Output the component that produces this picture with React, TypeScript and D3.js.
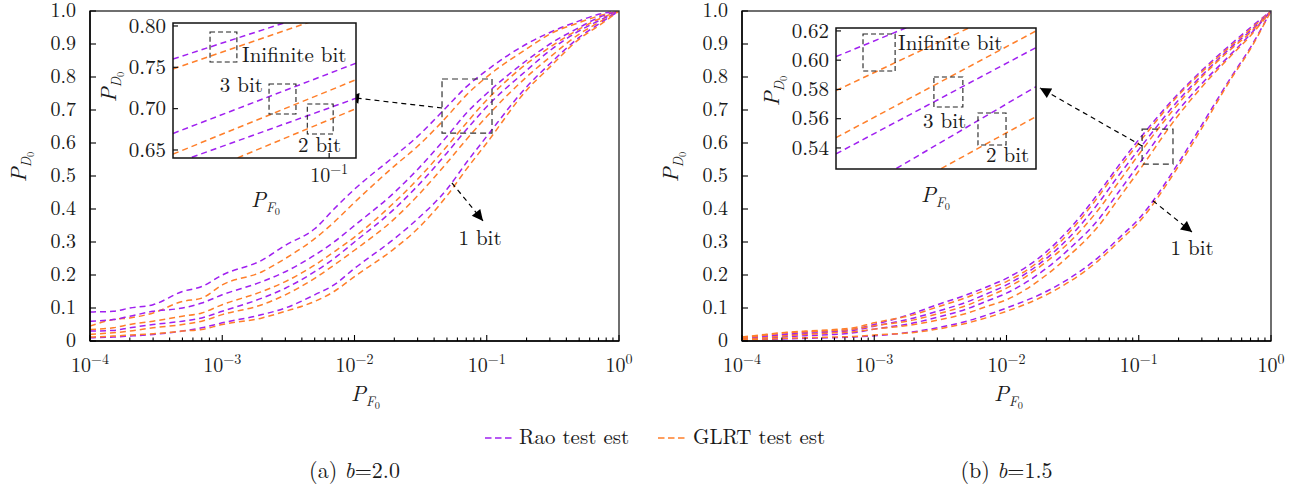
import React from 'react';
import * as d3 from 'd3';

// false alarm probabilities shared by every curve
const pf = [1e-4, 1.5e-4, 2e-4, 3e-4, 5e-4, 7e-4, 1e-3, 2e-3, 3e-3, 5e-3, 7e-3, 1e-2, 2e-2, 3e-2, 5e-2, 7e-2, 0.1, 0.2, 0.3, 0.5, 0.7, 1];

// (a) b = 2.0
const raoInfA = [0.088, 0.09, 0.1, 0.11, 0.15, 0.165, 0.2, 0.245, 0.29, 0.34, 0.4, 0.46, 0.56, 0.62, 0.71, 0.77, 0.82, 0.9, 0.935, 0.97, 0.99, 1.0];
const glrtInfA = [0.045, 0.065, 0.07, 0.085, 0.12, 0.13, 0.17, 0.21, 0.25, 0.31, 0.36, 0.42, 0.53, 0.59, 0.68, 0.745, 0.8, 0.885, 0.93, 0.965, 0.985, 1.0];
const rao3A = [0.06, 0.065, 0.075, 0.09, 0.1, 0.115, 0.14, 0.18, 0.21, 0.26, 0.3, 0.35, 0.45, 0.52, 0.62, 0.69, 0.75, 0.85, 0.9, 0.95, 0.98, 1.0];
const glrt3A = [0.035, 0.04, 0.05, 0.06, 0.075, 0.085, 0.11, 0.15, 0.18, 0.23, 0.27, 0.315, 0.42, 0.49, 0.59, 0.66, 0.73, 0.84, 0.89, 0.945, 0.975, 1.0];
const rao2A = [0.03, 0.032, 0.04, 0.05, 0.06, 0.07, 0.09, 0.13, 0.16, 0.21, 0.25, 0.3, 0.4, 0.47, 0.57, 0.64, 0.71, 0.82, 0.88, 0.94, 0.97, 1.0];
const glrt2A = [0.02, 0.025, 0.03, 0.04, 0.05, 0.06, 0.08, 0.11, 0.14, 0.19, 0.23, 0.275, 0.37, 0.44, 0.54, 0.61, 0.68, 0.8, 0.86, 0.93, 0.965, 1.0];
const rao1A = [0.01, 0.012, 0.015, 0.02, 0.03, 0.04, 0.055, 0.08, 0.1, 0.14, 0.17, 0.22, 0.31, 0.37, 0.46, 0.54, 0.62, 0.77, 0.84, 0.92, 0.96, 1.0];
const glrt1A = [0.012, 0.015, 0.018, 0.022, 0.03, 0.035, 0.05, 0.07, 0.09, 0.12, 0.15, 0.195, 0.28, 0.34, 0.44, 0.52, 0.6, 0.76, 0.83, 0.915, 0.955, 1.0];

// (b) b = 1.5
const raoInfB = [0.01, 0.015, 0.02, 0.026, 0.03, 0.036, 0.05, 0.085, 0.11, 0.14, 0.163, 0.19, 0.27, 0.34, 0.45, 0.53, 0.61, 0.75, 0.82, 0.9, 0.95, 1.0];
const glrtInfB = [0.012, 0.02, 0.025, 0.03, 0.035, 0.04, 0.055, 0.08, 0.103, 0.132, 0.155, 0.18, 0.26, 0.33, 0.44, 0.52, 0.6, 0.745, 0.815, 0.895, 0.945, 1.0];
const rao3B = [0.008, 0.012, 0.018, 0.022, 0.028, 0.032, 0.045, 0.07, 0.09, 0.118, 0.142, 0.17, 0.25, 0.315, 0.42, 0.5, 0.58, 0.73, 0.805, 0.89, 0.94, 1.0];
const glrt3B = [0.01, 0.018, 0.024, 0.028, 0.032, 0.036, 0.046, 0.064, 0.082, 0.108, 0.132, 0.16, 0.24, 0.3, 0.4, 0.48, 0.565, 0.72, 0.8, 0.885, 0.935, 1.0];
const rao2B = [0.005, 0.008, 0.012, 0.016, 0.02, 0.025, 0.036, 0.055, 0.072, 0.097, 0.12, 0.145, 0.22, 0.28, 0.37, 0.45, 0.535, 0.7, 0.78, 0.87, 0.93, 1.0];
const glrt2B = [0.006, 0.01, 0.015, 0.02, 0.025, 0.028, 0.036, 0.05, 0.063, 0.084, 0.104, 0.125, 0.2, 0.26, 0.35, 0.43, 0.515, 0.685, 0.77, 0.865, 0.925, 1.0];
const rao1B = [0.004, 0.005, 0.006, 0.008, 0.01, 0.012, 0.016, 0.028, 0.04, 0.06, 0.078, 0.1, 0.15, 0.19, 0.255, 0.31, 0.37, 0.54, 0.655, 0.8, 0.89, 1.0];
const glrt1B = [0.005, 0.006, 0.008, 0.01, 0.012, 0.014, 0.018, 0.026, 0.036, 0.054, 0.07, 0.09, 0.14, 0.18, 0.245, 0.3, 0.36, 0.53, 0.645, 0.795, 0.885, 1.0];

// zoomed insets: straight segments between the two inset edges
const insetAPf = [0.04786, 0.1135];
const insetARaoInf = [0.76, 0.832];
const insetAGlrtInf = [0.748, 0.824];
const insetARao3 = [0.67, 0.755];
const insetAGlrt3 = [0.645, 0.735];
const insetARao2 = [0.633, 0.7125];
const insetAGlrt2 = [0.608, 0.7];

const insetBPf = [0.1059, 0.1816];
const insetBRaoInf = [0.6024, 0.6587];
const insetBGlrtInf = [0.5792, 0.6437];
const insetBRao3 = [0.5359, 0.6086];
const insetBGlrt3 = [0.547, 0.62];
const insetBRao2 = [0.5018, 0.5819];
const insetBGlrt2 = [0.4865, 0.5614];

const yTickValues = [0, 0.1, 0.2, 0.3, 0.4, 0.5, 0.6, 0.7, 0.8, 0.9, 1.0];
const yTickLabels = ['0', '0.1', '0.2', '0.3', '0.4', '0.5', '0.6', '0.7', '0.8', '0.9', '1.0'];
const insetAYTicks = [0.65, 0.7, 0.75, 0.8];
const insetAYLabels = ['0.65', '0.70', '0.75', '0.80'];
const insetBYTicks = [0.54, 0.56, 0.58, 0.6, 0.62];
const insetBYLabels = ['0.54', '0.56', '0.58', '0.60', '0.62'];

const PURPLE = '#a020f0';
const ORANGE = '#ff7f2a';
const FONT = "'Latin Modern Roman'";
const INK = '#1a1a1a';
const DASH = '6,4';

const W = 529;
const H = 330;
const TOP = 11;

function PLabel({ x, y, sub, size = 22, rotate = false }) {
  return (
    <text
      x={x}
      y={y}
      transform={rotate ? `rotate(-90 ${x} ${y})` : undefined}
      textAnchor={rotate ? 'middle' : 'start'}
      fontFamily={FONT}
      fontSize={size}
      fill={INK}
    >
      <tspan fontStyle="italic">P</tspan>
      <tspan fontStyle="italic" fontSize={size * 0.62} dy={size * 0.22}>{sub}</tspan>
      <tspan fontSize={size * 0.47} dy={size * 0.14}>0</tspan>
    </text>
  );
}

function Arrow({ x1, y1, x2, y2 }) {
  return (
    <line x1={x1} y1={y1} x2={x2} y2={y2} stroke="#000" strokeWidth={1.2}
      strokeDasharray="5,4" markerEnd="url(#arrowHead)" />
  );
}

function Inset({ id, frame, xDomain, yDomain, xs, lines, yTicks, yLabels, xTick, boxes, notes, yLab, xLab }) {
  const x = d3.scaleLog().domain(xDomain).range([frame.x0, frame.x1]);
  const y = d3.scaleLinear().domain(yDomain).range([frame.y1, frame.y0]);
  const line = d3.line<number>().x((_, i) => x(xs[i])).y((d) => y(d));
  return (
    <g>
      <defs>
        <clipPath id={id}>
          <rect x={frame.x0} y={frame.y0} width={frame.x1 - frame.x0} height={frame.y1 - frame.y0} />
        </clipPath>
      </defs>
      <rect x={frame.x0} y={frame.y0} width={frame.x1 - frame.x0} height={frame.y1 - frame.y0} fill="#fff" />
      <g clipPath={`url(#${id})`}>
        {lines.map((l, i) => (
          <path key={i} d={line(l.values) || ''} fill="none" stroke={l.color} strokeWidth={1.5} strokeDasharray={DASH} />
        ))}
      </g>
      {boxes.map((b, i) => (
        <rect key={i} x={x(b[0])} y={y(b[3])} width={x(b[1]) - x(b[0])} height={y(b[2]) - y(b[3])}
          fill="none" stroke="#222" strokeWidth={1.1} strokeDasharray="5,3" />
      ))}
      {notes.map((n, i) => (
        <text key={i} x={x(n.x)} y={y(n.y)} textAnchor={n.anchor} fontFamily={FONT} fontSize={21} fill={INK}>
          {n.text}
        </text>
      ))}
      <rect x={frame.x0} y={frame.y0} width={frame.x1 - frame.x0} height={frame.y1 - frame.y0}
        fill="none" stroke="#111" strokeWidth={1.5} />
      {yTicks.map((t, i) => (
        <g key={t}>
          <line x1={frame.x0} x2={frame.x0 + 5} y1={y(t)} y2={y(t)} stroke="#111" strokeWidth={1.2} />
          <text x={frame.x0 - 7} y={y(t)} dy="0.32em" textAnchor="end" fontFamily={FONT} fontSize={21} fill={INK}>
            {yLabels[i]}
          </text>
        </g>
      ))}
      {xTick && (
        <g>
          <line x1={x(xTick.value)} x2={x(xTick.value)} y1={frame.y1} y2={frame.y1 - 5} stroke="#111" strokeWidth={1.2} />
          <text x={x(xTick.value)} y={frame.y1 + 24} textAnchor="middle" fontFamily={FONT} fontSize={20} fill={INK}>
            10<tspan fontSize={14} dy={-8}>{xTick.exp}</tspan>
          </text>
        </g>
      )}
      <PLabel x={yLab[0]} y={yLab[1]} sub="D" rotate />
      <PLabel x={xLab[0]} y={xLab[1]} sub="F" />
    </g>
  );
}

function Panel({ id, left, curves, box, arrowFrom, arrowTo, bitFrom, bitTo, bitText, inset, caption, labelX }) {
  const x = d3.scaleLog().domain([1e-4, 1]).range([left, left + W]);
  const y = d3.scaleLinear().domain([0, 1]).range([TOP + H, TOP]);
  const line = d3.line<number>().x((_, i) => x(pf[i])).y((d) => y(d)).curve(d3.curveMonotoneX);
  const ticks = x.ticks();
  const isDecade = (t: number) => Math.abs(Math.log10(t) - Math.round(Math.log10(t))) < 1e-6;
  const bottom = TOP + H;

  return (
    <g>
      <defs>
        <clipPath id={id}>
          <rect x={left} y={TOP} width={W} height={H} />
        </clipPath>
      </defs>
      <g clipPath={`url(#${id})`}>
        {curves.map((c, i) => (
          <path key={i} d={line(c.values) || ''} fill="none" stroke={c.color} strokeWidth={1.5} strokeDasharray={DASH} />
        ))}
      </g>
      <rect x={left} y={TOP} width={W} height={H} fill="none" stroke="#333" strokeWidth={1.4} />
      <line x1={left} x2={left} y1={TOP} y2={bottom} stroke="#000" strokeWidth={1.5} />
      <line x1={left} x2={left + W} y1={bottom} y2={bottom} stroke="#000" strokeWidth={1.5} />
      {ticks.map((t) => (
        <line key={t} x1={x(t)} x2={x(t)} y1={bottom} y2={bottom - (isDecade(t) ? 6 : 3.5)} stroke="#000" strokeWidth={1.1} />
      ))}
      {ticks.filter(isDecade).map((t) => (
        <text key={t} x={x(t)} y={bottom + 31} textAnchor="middle" fontFamily={FONT} fontSize={20} fill={INK}>
          10<tspan fontSize={14} dy={-8}>{Math.round(Math.log10(t)) === 0 ? '0' : `\u2212${-Math.round(Math.log10(t))}`}</tspan>
        </text>
      ))}
      {yTickValues.map((t, i) => (
        <g key={t}>
          <line x1={left} x2={left + 6} y1={y(t)} y2={y(t)} stroke="#000" strokeWidth={1.1} />
          <text x={left - 14} y={y(t)} dy="0.28em" textAnchor="end" fontFamily={FONT} fontSize={20} fill={INK}>
            {yTickLabels[i]}
          </text>
        </g>
      ))}
      <PLabel x={left - 64} y={167} sub="D" rotate />
      <PLabel x={labelX} y={bottom + 60} sub="F" />

      <rect x={x(box[0])} y={y(box[3])} width={x(box[1]) - x(box[0])} height={y(box[2]) - y(box[3])}
        fill="none" stroke="#333" strokeWidth={1.2} strokeDasharray="6,4" />
      <Arrow x1={x(arrowFrom[0])} y1={y(arrowFrom[1])} x2={x(arrowTo[0])} y2={y(arrowTo[1])} />
      <Arrow x1={x(bitFrom[0])} y1={y(bitFrom[1])} x2={x(bitTo[0])} y2={y(bitTo[1])} />
      <text x={x(bitText[0])} y={y(bitText[1])} textAnchor="middle" fontFamily={FONT} fontSize={21} fill={INK}>1 bit</text>

      <Inset {...inset} />

      <text x={left + W / 2} y={478} textAnchor="middle" fontFamily={FONT} fontSize={22} fill={INK}>
        ({caption[0]}) <tspan fontStyle="italic">b</tspan>={caption[1]}
      </text>
    </g>
  );
}

const curvesA = [
  { values: raoInfA, color: PURPLE }, { values: glrtInfA, color: ORANGE },
  { values: rao3A, color: PURPLE }, { values: glrt3A, color: ORANGE },
  { values: rao2A, color: PURPLE }, { values: glrt2A, color: ORANGE },
  { values: rao1A, color: PURPLE }, { values: glrt1A, color: ORANGE },
];
const curvesB = [
  { values: raoInfB, color: PURPLE }, { values: glrtInfB, color: ORANGE },
  { values: rao3B, color: PURPLE }, { values: glrt3B, color: ORANGE },
  { values: rao2B, color: PURPLE }, { values: glrt2B, color: ORANGE },
  { values: rao1B, color: PURPLE }, { values: glrt1B, color: ORANGE },
];

const insetA = {
  id: 'insetA',
  frame: { x0: 173, y0: 23, x1: 356, y1: 158 },
  xDomain: [0.04786, 0.1135],
  yDomain: [0.6403, 0.8036],
  xs: insetAPf,
  lines: [
    { values: insetARaoInf, color: PURPLE }, { values: insetAGlrtInf, color: ORANGE },
    { values: insetARao3, color: PURPLE }, { values: insetAGlrt3, color: ORANGE },
    { values: insetARao2, color: PURPLE }, { values: insetAGlrt2, color: ORANGE },
  ],
  yTicks: insetAYTicks,
  yLabels: insetAYLabels,
  xTick: { value: 0.1, exp: '\u22121' },
  boxes: [[0.057, 0.0647, 0.7564, 0.7927], [0.0753, 0.0855, 0.6935, 0.7298], [0.0902, 0.1019, 0.6693, 0.7056]],
  notes: [
    { text: 'Inifinite bit', x: 0.0663, y: 0.7564, anchor: 'start' },
    { text: '3 bit', x: 0.0732, y: 0.7201, anchor: 'end' },
    { text: '2 bit', x: 0.0863, y: 0.6476, anchor: 'start' },
  ],
  yLab: [116, 87],
  xLab: [251, 207],
};

const insetB = {
  id: 'insetB',
  frame: { x0: 836, y0: 28, x1: 1036, y1: 169 },
  xDomain: [0.1059, 0.1816],
  yDomain: [0.5256, 0.622],
  xs: insetBPf,
  lines: [
    { values: insetBRaoInf, color: PURPLE }, { values: insetBGlrtInf, color: ORANGE },
    { values: insetBRao3, color: PURPLE }, { values: insetBGlrt3, color: ORANGE },
    { values: insetBRao2, color: PURPLE }, { values: insetBGlrt2, color: ORANGE },
  ],
  yTicks: insetBYTicks,
  yLabels: insetBYLabels,
  xTick: null,
  boxes: [[0.1139, 0.1242, 0.5926, 0.6179], [0.1379, 0.1491, 0.568, 0.5885], [0.1553, 0.1675, 0.542, 0.5639]],
  notes: [
    { text: 'Inifinite bit', x: 0.1252, y: 0.607, anchor: 'start' },
    { text: '3 bit', x: 0.1339, y: 0.5536, anchor: 'start' },
    { text: '2 bit', x: 0.1587, y: 0.5304, anchor: 'start' },
  ],
  yLab: [779, 91],
  xLab: [921, 202],
};

export default function App() {
  return (
    <svg width={1305} height={490} style={{ position: 'absolute', left: 0, top: 0, background: '#fff' }}>
      <defs>
        <marker id="arrowHead" viewBox="0 0 10 10" refX={10} refY={5} markerWidth={13} markerHeight={11}
          markerUnits="userSpaceOnUse" orient="auto">
          <path d="M0,0 L10,5 L0,10 z" fill="#000" />
        </marker>
      </defs>
      <Panel
        id="clipA" left={90} curves={curvesA}
        box={[0.0459, 0.1096, 0.63, 0.794]}
        arrowFrom={[0.0459, 0.706]} arrowTo={[0.00893, 0.739]}
        bitFrom={[0.0545, 0.479]} bitTo={[0.0937, 0.364]} bitText={[0.0889, 0.291]}
        inset={insetA} caption={['a', '2.0']} labelX={351}
      />
      <Panel
        id="clipB" left={742} curves={curvesB}
        box={[0.106, 0.1815, 0.536, 0.642]}
        arrowFrom={[0.106, 0.591]} arrowTo={[0.0179, 0.767]}
        bitFrom={[0.128, 0.425]} bitTo={[0.253, 0.33]} bitText={[0.253, 0.261]}
        inset={insetB} caption={['b', '1.5']} labelX={994}
      />
      <g fontFamily={FONT} fontSize={21} fill={INK}>
        <line x1={485} x2={512} y1={438} y2={438} stroke={PURPLE} strokeWidth={1.6} strokeDasharray="6.5,3.5" />
        <text x={519} y={444}>Rao test est</text>
        <line x1={658} x2={685} y1={438} y2={438} stroke={ORANGE} strokeWidth={1.6} strokeDasharray="6.5,3.5" />
        <text x={693} y={444}>GLRT test est</text>
      </g>
    </svg>
  );
}
